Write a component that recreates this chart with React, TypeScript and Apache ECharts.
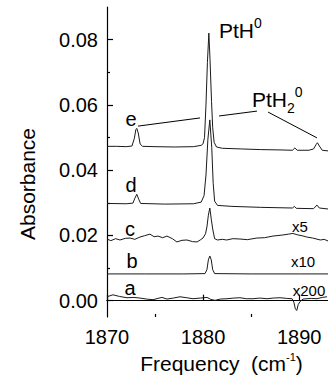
import React, { useEffect, useRef } from "react";
import * as echarts from "echarts";

// ---- data (frequency cm^-1, absorbance) ----
const traceE: [number, number][] = [
  [1870.0, 0.0473], [1871.0, 0.0473], [1872.0, 0.0472], [1872.6, 0.0474], [1872.85, 0.0498],
  [1873.0, 0.0524], [1873.1, 0.0528], [1873.25, 0.0514], [1873.45, 0.0480], [1873.7, 0.0473],
  [1875.0, 0.0472], [1877.0, 0.0471], [1879.0, 0.0472], [1879.8, 0.0476], [1880.0, 0.0481],
  [1880.15, 0.0500], [1880.3, 0.0600], [1880.45, 0.0730], [1880.6, 0.0820], [1880.72, 0.0740],
  [1880.88, 0.0610], [1881.0, 0.0530], [1881.15, 0.0485], [1881.4, 0.0471], [1882.0, 0.0467],
  [1884.0, 0.0465], [1886.0, 0.0463], [1888.0, 0.0462], [1889.3, 0.0461], [1889.55, 0.0468],
  [1889.8, 0.0461], [1891.0, 0.0461], [1891.5, 0.0465], [1891.75, 0.0478], [1891.9, 0.0484],
  [1892.1, 0.0474], [1892.4, 0.0461], [1893.0, 0.0459]
];
const traceD: [number, number][] = [
  [1870.0, 0.0298], [1872.0, 0.0297], [1872.7, 0.0299], [1872.9, 0.0314], [1873.1, 0.0326],
  [1873.3, 0.0311], [1873.5, 0.0298], [1876.0, 0.0296], [1879.0, 0.0297], [1879.8, 0.0302],
  [1880.1, 0.0322], [1880.3, 0.0385], [1880.5, 0.0495], [1880.7, 0.0554], [1880.9, 0.0470],
  [1881.05, 0.0360], [1881.2, 0.0305], [1881.5, 0.0292], [1883.0, 0.0289], [1886.0, 0.0286],
  [1889.3, 0.0284], [1889.5, 0.0289], [1889.7, 0.0283], [1891.5, 0.0282], [1891.85, 0.0293],
  [1892.1, 0.0284], [1893.0, 0.0281]
];
const traceC: [number, number][] = [
  [1870.0, 0.0189], [1870.4, 0.0184], [1870.9, 0.0190], [1871.35, 0.0186], [1871.9, 0.0191],
  [1872.4, 0.0192], [1872.9, 0.0188], [1873.43, 0.0195], [1873.9, 0.0199], [1874.47, 0.0204],
  [1874.9, 0.0196], [1875.3, 0.0198], [1875.8, 0.0193], [1876.24, 0.0198], [1876.8, 0.0190],
  [1877.28, 0.0180], [1877.8, 0.0185], [1878.32, 0.0186], [1878.9, 0.0181], [1879.37, 0.0180],
  [1879.7, 0.0186], [1879.99, 0.0192], [1880.25, 0.0205], [1880.4, 0.0226], [1880.55, 0.0262],
  [1880.7, 0.0284], [1880.85, 0.0250], [1881.0, 0.0220], [1881.2, 0.0190], [1881.5, 0.0186],
  [1882.0, 0.0188], [1882.46, 0.0186], [1883.1, 0.0190], [1883.84, 0.0189], [1884.6, 0.0187],
  [1885.6, 0.0192], [1886.4, 0.0193], [1887.27, 0.0198], [1888.2, 0.0201], [1888.9, 0.0204],
  [1889.35, 0.0206], [1889.8, 0.0202], [1890.3, 0.0199], [1890.8, 0.0195], [1891.4, 0.0192],
  [1892.2, 0.0186], [1892.6, 0.0188], [1893.0, 0.0183]
];
const traceB: [number, number][] = [
  [1870.0, 0.0082], [1874.0, 0.0082], [1878.0, 0.0082], [1880.2, 0.0083], [1880.4, 0.0095],
  [1880.55, 0.0125], [1880.7, 0.0137], [1880.85, 0.0125], [1881.0, 0.0095], [1881.2, 0.0083],
  [1885.0, 0.0082], [1890.0, 0.0082], [1893.0, 0.0082]
];
const traceA: [number, number][] = [
  [1870.0, 0.0012], [1870.62, 0.0018], [1871.3, 0.0013], [1872.08, 0.0009], [1872.8, 0.0010],
  [1873.43, 0.0008], [1874.1, 0.0005], [1874.79, 0.0003], [1875.3, 0.0007], [1875.72, 0.0010],
  [1876.24, 0.0005], [1876.9, 0.0008], [1877.6, 0.0012], [1878.3, 0.0009], [1878.95, 0.0006],
  [1879.7, 0.0008], [1880.41, 0.0010], [1880.8, 0.0004], [1881.24, 0.0001], [1881.8, 0.0005],
  [1882.49, 0.0006], [1883.2, 0.0008], [1883.84, 0.0009], [1884.5, 0.0006], [1885.2, 0.0006],
  [1885.9, 0.0008], [1886.66, 0.0006], [1887.3, 0.0008], [1888.01, 0.0009], [1888.7, 0.0007],
  [1889.26, 0.0006], [1889.45, -0.0005], [1889.6, -0.0025], [1889.75, -0.0030], [1889.9, -0.0012],
  [1890.08, -0.0003], [1890.4, 0.0005], [1890.81, 0.0006], [1891.3, 0.0007], [1891.85, 0.0006],
  [1892.4, 0.0010], [1892.9, 0.0012]
];
// leader lines from the PtH2 label to its peaks (data coordinates)
const leaderSegments: [[number, number], [number, number]][] = [
  [[1873.23, 0.0535], [1879.68, 0.0560]],
  [[1881.66, 0.0566], [1885.61, 0.0581]],
  [[1886.76, 0.0578], [1891.85, 0.0499]]
];
const xMajorTicks = [1870, 1880, 1890];
const xMinorTicks = [1875, 1885];
const yMajorTicks = [0, 0.02, 0.04, 0.06, 0.08];
const yMinorTicks = [0.01, 0.03, 0.05, 0.07];
const traceLabels = ["e", "d", "c", "b", "a"];
const scaleLabels = ["x5", "x10", "x200"];

const FONT = "'Liberation Sans', Arial, sans-serif";
const X_MIN = 1870, X_MAX = 1893, Y_MIN = -0.005, Y_MAX = 0.09;

export default function App() {
  const ref = useRef<HTMLDivElement>(null);
  useEffect(() => {
    if (!ref.current) return;
    const chart = echarts.init(ref.current, null, { renderer: "svg" });
    const axisLineStyle = { color: "#000", width: 1.2 };
    const lineSeries = (data: [number, number][], extra: any = {}) => ({
      type: "line",
      data,
      xAxisIndex: 0,
      yAxisIndex: 0,
      symbol: "none",
      showSymbol: false,
      silent: true,
      lineStyle: { color: "#1a1a1a", width: 1 },
      ...extra
    });
    const labelPos: [number, number][] = [[131, 119], [131, 185], [130, 229], [132, 261], [130, 288]];
    const scalePos: [number, number][] = [[300, 226], [303, 261], [309, 290]];
    const option: any = {
      animation: false,
      grid: { left: 107, right: 0, top: 7, bottom: 64, containLabel: false },
      xAxis: [
        {
          type: "value", min: X_MIN, max: X_MAX, position: "bottom",
          axisLine: { lineStyle: axisLineStyle },
          axisTick: { inside: true, length: 6, customValues: xMajorTicks, lineStyle: axisLineStyle },
          axisLabel: {
            customValues: xMajorTicks, margin: 10, fontSize: 20, color: "#000", fontFamily: FONT,
            formatter: (v: number) => String(Math.round(v))
          },
          splitLine: { show: false }
        },
        {
          type: "value", min: X_MIN, max: X_MAX, position: "top",
          axisLine: { lineStyle: axisLineStyle },
          axisTick: { show: false }, axisLabel: { show: false }, splitLine: { show: false }
        },
        {
          type: "value", min: X_MIN, max: X_MAX, position: "bottom",
          axisLine: { show: false },
          axisTick: { inside: true, length: 3, customValues: xMinorTicks, lineStyle: axisLineStyle },
          axisLabel: { show: false }, splitLine: { show: false }
        }
      ],
      yAxis: [
        {
          type: "value", min: Y_MIN, max: Y_MAX, position: "left",
          axisLine: { show: true, lineStyle: axisLineStyle },
          axisTick: { show: true, inside: true, length: 6, customValues: yMajorTicks, lineStyle: axisLineStyle },
          axisLabel: {
            customValues: yMajorTicks, margin: 9, fontSize: 20, color: "#000", fontFamily: FONT,
            formatter: (v: number) => v.toFixed(2)
          },
          splitLine: { show: false }
        },
        {
          type: "value", min: Y_MIN, max: Y_MAX, position: "left",
          axisLine: { show: false },
          axisTick: { show: true, inside: true, length: 3, customValues: yMinorTicks, lineStyle: axisLineStyle },
          axisLabel: { show: false }, splitLine: { show: false }
        }
      ],
      series: [
        lineSeries(traceA),
        lineSeries(traceB),
        lineSeries(traceC),
        lineSeries(traceD),
        lineSeries(traceE, {
          markLine: {
            silent: true,
            symbol: ["none", "none"],
            label: { show: false },
            lineStyle: { color: "#000", width: 1, type: "solid" },
            data: leaderSegments.map(([p, q]) => [{ coord: p }, { coord: q }])
          }
        })
      ],
      graphic: [
        ...traceLabels.map((t, i) => ({
          type: "text", x: labelPos[i][0], y: labelPos[i][1], silent: true,
          style: { text: t, fontSize: 20, fontFamily: FONT, fill: "#000", align: "center", verticalAlign: "middle" }
        })),
        ...scaleLabels.map((t, i) => ({
          type: "text", x: scalePos[i][0], y: scalePos[i][1], silent: true,
          style: { text: t, fontSize: 15, fontFamily: FONT, fill: "#000", align: "center", verticalAlign: "middle" }
        })),
        {
          type: "text", x: 219, y: 30.5, silent: true,
          style: {
            text: "PtH{sup|0}", fontSize: 21, lineHeight: 30, fontFamily: FONT, fill: "#000",
            align: "left", verticalAlign: "middle",
            rich: { sup: { fontSize: 14, lineHeight: 17, verticalAlign: "top", fontFamily: FONT, fill: "#000" } }
          }
        },
        {
          type: "text", x: 252, y: 99.5, silent: true,
          style: {
            text: "PtH{sub|2}{sup|0}", fontSize: 21, lineHeight: 30, fontFamily: FONT, fill: "#000",
            align: "left", verticalAlign: "middle",
            rich: {
              sub: { fontSize: 14, lineHeight: 11, verticalAlign: "bottom", fontFamily: FONT, fill: "#000" },
              sup: { fontSize: 14, lineHeight: 17, verticalAlign: "top", fontFamily: FONT, fill: "#000" }
            }
          }
        },
        {
          type: "text", x: 27, y: 184, rotation: Math.PI / 2, silent: true,
          style: { text: "Absorbance", fontSize: 21, fontFamily: FONT, fill: "#000", align: "center", verticalAlign: "middle" }
        },
        {
          type: "text", x: 221.5, y: 363, silent: true,
          style: {
            text: "Frequency\u00a0\u00a0(cm{sup|-1})", fontSize: 21, lineHeight: 24, fontFamily: FONT, fill: "#000",
            align: "center", verticalAlign: "middle",
            rich: { sup: { fontSize: 11, lineHeight: 15, verticalAlign: "top", fontFamily: FONT, fill: "#000" } }
          }
        }
      ]
    };
    chart.setOption(option);
    return () => chart.dispose();
  }, []);
  return (
    <div
      ref={ref}
      style={{ position: "fixed", left: 0, top: 0, width: 328, height: 381, background: "#fff" }}
    />
  );
}
